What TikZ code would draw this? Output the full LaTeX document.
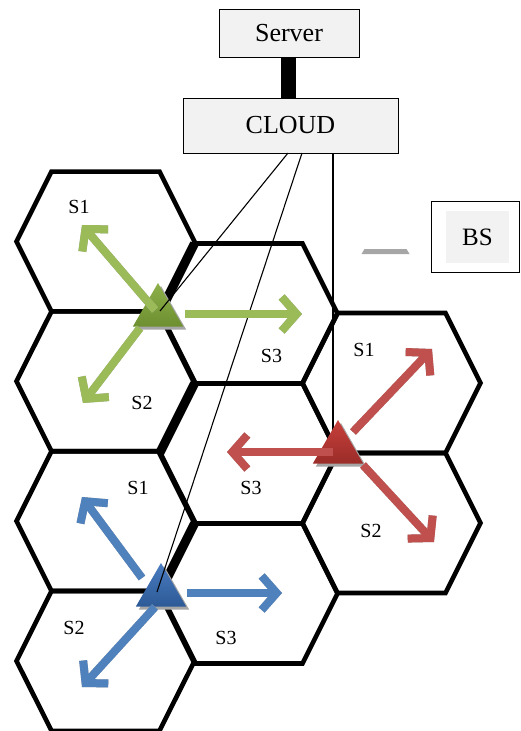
\documentclass[tikz,border=0pt]{standalone}
\usepackage{fontspec}
\setmainfont{Liberation Serif}
\usetikzlibrary{arrows.meta,shapes.geometric}
\definecolor{boxfill}{HTML}{F2F2F2}
\definecolor{shadowc}{HTML}{A6A6A6}
\definecolor{greenA}{HTML}{9BBB59}
\definecolor{greenT}{HTML}{8DB04A}
\definecolor{greenB}{HTML}{6E8F30}
\definecolor{redA}{HTML}{C0504D}
\definecolor{redT}{HTML}{C8403C}
\definecolor{redB}{HTML}{9A2C28}
\definecolor{blueA}{HTML}{4F81BD}
\definecolor{blueT}{HTML}{4A7CC0}
\definecolor{blueB}{HTML}{2D5A97}
\tikzset{
  hexline/.style={line width=4.6pt, line join=miter},
  thickedge/.style={line width=9pt},
  boxstyle/.style={draw, line width=1pt, fill=boxfill, inner sep=0pt},
  lbl/.style={font=\fontsize{20}{24}\selectfont, inner sep=0pt},
  bigtxt/.style={font=\fontsize{26}{30}\selectfont},
  tri/.style={regular polygon, regular polygon sides=3, minimum size=58pt, inner sep=0pt, draw=none},
  arw/.style={line width=8pt, -{Straight Barb[length=15pt,width=34pt]}},
  link/.style={line width=1.1pt},
}
\newcommand{\hexagon}[3]{%
  \draw[hexline, shift={(#1,#2)}] (-89,0) -- (-54,-#3) -- (54,-#3) -- (89,0) -- (54,#3) -- (-54,#3) -- cycle;}
\newcommand{\sarrow}[3]{%
  \draw[arw, shadowc, xshift=2.5pt, yshift=-3pt] (#2) -- (#3);
  \draw[arw, #1] (#2) -- (#3);}
\begin{document}
\begin{tikzpicture}[x=1pt,y=-1pt]
\useasboundingbox (0,0) rectangle (521,731);

% hexagons
\hexagon{105.5}{241.5}{69.9}
\hexagon{105.5}{381.3}{69.9}
\hexagon{105.5}{521.1}{69.9}
\hexagon{105.5}{660.9}{69.9}
\hexagon{248.5}{313.5}{70}
\hexagon{248.5}{453.5}{70}
\hexagon{248.5}{593.5}{70}
\hexagon{391.5}{383}{70}
\hexagon{391.5}{523}{70}
\draw[thickedge] (159.5,313.5) -- (194.5,243.5);
\draw[thickedge] (159.5,453.5) -- (194.5,383.5);
\draw[thickedge] (159.5,593.5) -- (194.5,523.5);

% labels in cells
\node[lbl] (l1) at (79,207) {S1};
\node[lbl] (l2) at (142,403) {S2};
\node[lbl] (l3) at (271.5,356) {S3};
\node[lbl] (l4) at (364,350) {S1};
\node[lbl] (l5) at (138,488) {S1};
\node[lbl] (l6) at (251,488) {S3};
\node[lbl] (l7) at (371,531) {S2};
\node[lbl] (l8) at (74,628) {S2};
\node[lbl] (l9) at (226,638) {S3};

% server and cloud
\node[boxstyle, bigtxt, minimum width=140pt, minimum height=48pt] (server) at (289,33) {Server};
\node[boxstyle, bigtxt, minimum width=215pt, minimum height=55pt] (cloud) at (290.5,125.5) {CLOUD};
\draw[line width=15pt] (server.south -| 288.5,0) -- (cloud.north -| 288.5,0);

% legend
\node[draw, line width=1pt, minimum width=88pt, minimum height=71pt, inner sep=0pt] (legend) at (475,236.5) {};
\node[fill=boxfill, minimum width=63pt, minimum height=52pt, inner sep=0pt, font=\fontsize{25}{30}\selectfont] (bs) at (477.5,237) {BS};
\fill[shadowc] (364.5,249) -- (406.5,249) -- (409.5,254) -- (361.5,254) -- cycle;

% red link drawn under red triangle
\coordinate (c3) at (333,153);
\coordinate (r0) at (333,440);
\draw[link] (c3) -- (r0);

% base station triangles with shadows
\node[tri, fill=shadowc] (gs) at (161,315) {};
\node[tri, top color=greenT, bottom color=greenB] (gtri) at (158,312) {};
\node[tri, fill=shadowc] (rs) at (341,452) {};
\node[tri, top color=redT, bottom color=redB] (rtri) at (338,449) {};
\node[tri, fill=shadowc] (bs2) at (164,595) {};
\node[tri, top color=blueT, bottom color=blueB] (btri) at (161,592) {};

% links from cloud
\coordinate (c1) at (288,153);
\coordinate (c2) at (302,153);
\coordinate (g0) at (160,311);
\coordinate (b0) at (157,592);
\draw[link] (c1) -- (g0);
\draw[link] (c2) -- (b0);

% arrows
\coordinate (g1a) at (155,310); \coordinate (g1b) at (82,225);
\coordinate (g2a) at (185,314); \coordinate (g2b) at (302,314);
\coordinate (g3a) at (140,328); \coordinate (g3b) at (83,403);
\coordinate (r1a) at (353,432); \coordinate (r1b) at (432,349);
\coordinate (r2a) at (333,452); \coordinate (r2b) at (227,452);
\coordinate (r3a) at (363,465); \coordinate (r3b) at (434,542);
\coordinate (b1a) at (142,578); \coordinate (b1b) at (82,497);
\coordinate (b2a) at (187,593); \coordinate (b2b) at (282,593);
\coordinate (b3a) at (155,607); \coordinate (b3b) at (82,687);
\sarrow{greenA}{g1a}{g1b}
\sarrow{greenA}{g2a}{g2b}
\sarrow{greenA}{g3a}{g3b}
\sarrow{redA}{r1a}{r1b}
\sarrow{redA}{r2a}{r2b}
\sarrow{redA}{r3a}{r3b}
\sarrow{blueA}{b1a}{b1b}
\sarrow{blueA}{b2a}{b2b}
\sarrow{blueA}{b3a}{b3b}
\end{tikzpicture}
\end{document}
